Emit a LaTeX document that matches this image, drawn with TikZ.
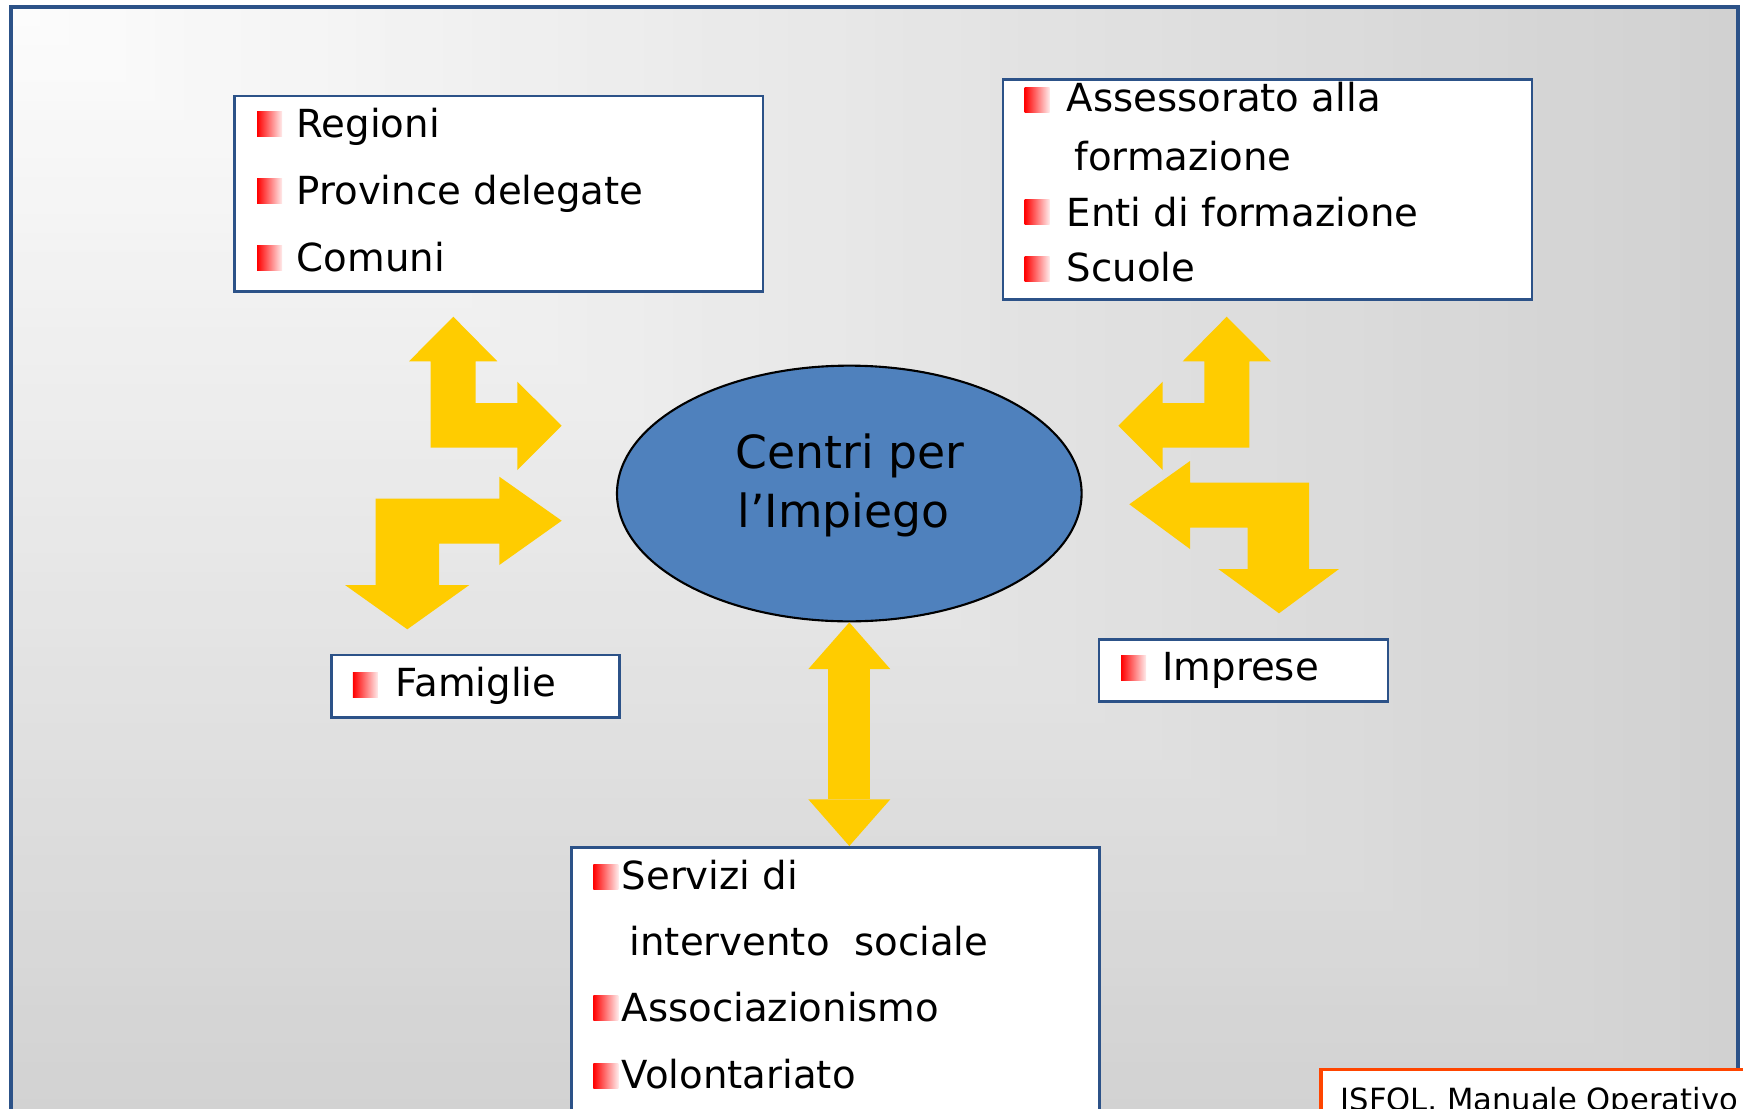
\documentclass[tikz,border=0pt]{standalone}
\usepackage{fontspec}
\setmainfont{DejaVu Sans}
\usetikzlibrary{shapes.geometric}
\usetikzlibrary{arrows.meta}
\definecolor{cornice}{RGB}{44,82,136}
\definecolor{giallo}{RGB}{255,204,0}
\definecolor{bluastro}{RGB}{79,129,189}
\definecolor{arancio}{RGB}{255,69,0}

\begin{document}
\begin{tikzpicture}
	\tikzstyle{riquadro}=[rectangle,draw=cornice,line width=0.8pt,fill=white,anchor=north west,inner sep=0pt]
	\tikzstyle{punto}=[rectangle,minimum size=0.25cm,inner sep=0pt,left color=red,right color=red!8]
	\tikzstyle{voce}=[anchor=base west,inner sep=0pt,font=\fontsize{11}{13}\selectfont]
	\tikzstyle{titolo}=[anchor=base west,inner sep=0pt,font=\fontsize{13}{15}\selectfont]
	\tikzstyle{freccia}=[fill=giallo]
	\tikzstyle{punta}=[{Triangle[length=0.467cm,width=0.82cm,line width=0pt]}-{Triangle[length=0.467cm,width=0.82cm,line width=0pt]}]
	\useasboundingbox (0,0) rectangle (17.43,-11.08);
	\clip (0,0) rectangle (17.43,-11.08);
	\foreach \k in {60,59,...,1}{
		\pgfmathsetmacro{\g}{1+17*\k/60}
		\fill[black!\g] (0.11,-0.07) rectangle ++(17.27*\k/60,-11.3*\k/60);
	}
	\draw[cornice,line width=1pt] (0.11,-11.6) -- (0.11,-0.07) -- (17.38,-0.07) -- (17.38,-11.6);

	\node[riquadro,minimum width=5.285cm,minimum height=1.955cm] (enti) at (2.33,-0.945) {};
	\node[punto] (p1) at (2.695,-1.235) {};
	\node[voce] (regioni) at (2.96,-1.37) {Regioni};
	\node[punto] (p2) at (2.695,-1.905) {};
	\node[voce] (province) at (2.96,-2.04) {Province delegate};
	\node[punto] (p3) at (2.695,-2.575) {};
	\node[voce] (comuni) at (2.96,-2.71) {Comuni};

	\node[riquadro,minimum width=5.29cm,minimum height=2.2cm] (formazione) at (10.015,-0.78) {};
	\node[punto] (p4) at (10.37,-0.995) {};
	\node[voce] (assessorato) at (10.66,-1.117) {Assessorato alla};
	\node[voce] (assessorato2) at (10.74,-1.70) {formazione};
	\node[punto] (p5) at (10.37,-2.12) {};
	\node[voce] (entiform) at (10.66,-2.267) {Enti di formazione};
	\node[punto] (p6) at (10.37,-2.69) {};
	\node[voce] (scuole) at (10.66,-2.817) {Scuole};

	\node[ellipse,draw,line width=0.6pt,fill=bluastro,minimum width=4.646cm,minimum height=2.557cm,inner sep=0pt] (centri) at (8.493,-4.935) {};
	\node[titolo] (centri1) at (7.35,-4.68) {Centri per};
	\node[titolo] (centri2) at (7.37,-5.27) {l’Impiego};

	\node[riquadro,minimum width=2.88cm,minimum height=0.624cm] (famiglie) at (3.30,-6.536) {};
	\node[punto] (p7) at (3.654,-6.845) {};
	\node[voce] (famiglie1) at (3.95,-6.967) {Famiglie};

	\node[riquadro,minimum width=2.89cm,minimum height=0.62cm] (imprese) at (10.975,-6.38) {};
	\node[punto] (p8) at (11.335,-6.675) {};
	\node[voce] (imprese1) at (11.617,-6.80) {Imprese};

	\node[riquadro,minimum width=5.28cm,minimum height=3.2cm] (servizi) at (5.70,-8.46) {};
	\node[punto] (p9) at (6.058,-8.765) {};
	\node[voce] (servizi1) at (6.21,-8.89) {Servizi di};
	\node[voce] (servizi2) at (6.29,-9.55) {intervento~ sociale};
	\node[punto] (p10) at (6.058,-10.08) {};
	\node[voce] (associazionismo) at (6.21,-10.21) {Associazionismo};
	\node[punto] (p11) at (6.058,-10.757) {};
	\node[voce] (volontariato) at (6.21,-10.88) {Volontariato};

	\node[rectangle,draw=arancio,line width=1pt,fill=white,anchor=north west,minimum width=5cm,minimum height=1cm] (fonte) at (13.19,-10.675) {};
	\node[anchor=base west,inner sep=0pt,font=\fontsize{8.7}{10}\selectfont] (isfol) at (13.40,-11.10) {ISFOL, Manuale Operativo};

	\fill[freccia] (4.533,-3.167) -- (4.973,-3.613) -- (4.757,-3.613) -- (4.757,-4.03) -- (5.173,-4.03) -- (5.173,-3.817) -- (5.617,-4.257) -- (5.173,-4.70) -- (5.173,-4.477) -- (4.307,-4.477) -- (4.307,-3.613) -- (4.09,-3.613) -- cycle;
	\fill[freccia] (5.617,-5.207) -- (4.993,-5.65) -- (4.993,-5.437) -- (4.39,-5.437) -- (4.39,-5.85) -- (4.693,-5.85) -- (4.073,-6.293) -- (3.45,-5.85) -- (3.757,-5.85) -- (3.757,-4.987) -- (4.993,-4.987) -- (4.993,-4.767) -- cycle;
	\fill[freccia] (12.267,-3.167) -- (12.71,-3.613) -- (12.493,-3.613) -- (12.493,-4.477) -- (11.627,-4.477) -- (11.627,-4.70) -- (11.183,-4.257) -- (11.627,-3.817) -- (11.627,-4.03) -- (12.043,-4.03) -- (12.043,-3.613) -- (11.827,-3.613) -- cycle;
	\fill[freccia] (11.293,-5.043) -- (11.90,-4.61) -- (11.90,-4.827) -- (13.09,-4.827) -- (13.09,-5.69) -- (13.39,-5.69) -- (12.79,-6.133) -- (12.183,-5.69) -- (12.477,-5.69) -- (12.477,-5.277) -- (11.90,-5.277) -- (11.90,-5.49) -- cycle;
	\draw[giallo,line width=0.417cm,punta] (centri.south) -- (centri.south |- servizi.north);
\end{tikzpicture}
\end{document}
